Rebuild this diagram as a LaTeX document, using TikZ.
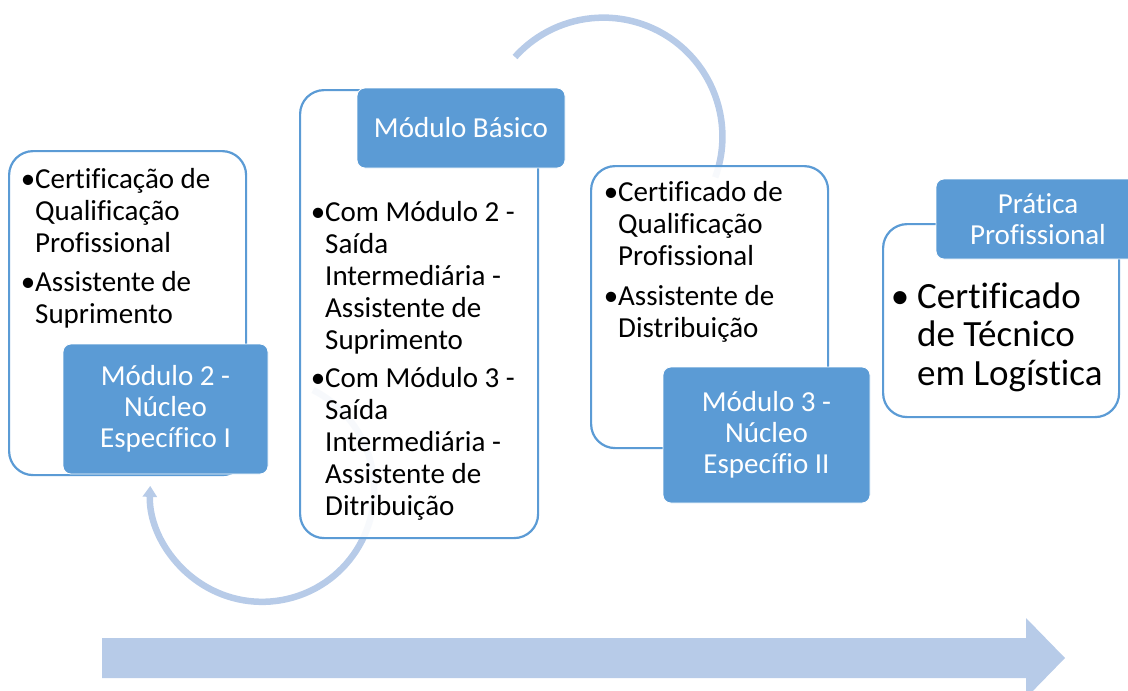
\documentclass[tikz,border=0pt]{standalone}
\usepackage{fontspec}
\setmainfont{Carlito}[Ligatures=NoCommon]
\usepackage{xcolor}
\usetikzlibrary{arrows.meta}

\definecolor{accent}{HTML}{5B9BD5}
\definecolor{flow}{HTML}{B7CBE8}

\tikzset{
  card/.style={draw=accent, line width=2.2pt, rounded corners=24pt, fill=white, fill opacity=0.9, anchor=north west, inner sep=0pt},
  head/.style={draw=white, line width=0.8pt, rounded corners=8pt, fill=accent, text=white, align=center, inner sep=0pt, font=\fontsize{29}{31}\selectfont},
  body/.style={align=left, anchor=north west, inner sep=0pt, font=\fontsize{29}{32}\selectfont},
  loopline/.style={flow, line width=6.5pt}
}

\begin{document}
\begin{tikzpicture}[x=1pt, y=-1pt]
 \useasboundingbox (0,0) rectangle (1128,691);

 \coordinate (up) at (515,57);
 \coordinate (low) at (313,390);

 \draw[loopline] (up) arc[start angle=-138, end angle=20, radius=119];
 \draw[loopline, -{Triangle[width=14pt, length=11pt]}] (low) arc[start angle=-63, end angle=182, radius=112];

 \fill[flow] (102,638) -- (1026,638) -- (1026,618) -- (1065,658) -- (1026,698) -- (1026,678) -- (102,678) -- cycle;

 \node[card, minimum width=237, minimum height=324] (c1) at (8,150) {};
 \node[card, minimum width=238, minimum height=448] (c2) at (299,89) {};
 \node[card, minimum width=237, minimum height=282] (c3) at (590,165) {};
 \node[card, minimum width=236, minimum height=193] (c4) at (882,223) {};

 \node[body] (t1) at (35,166) {\strut\llap{•}Certificação de\\Qualificação\\Profissional\\[7pt]
   \llap{•}Assistente de\\Suprimento};
 \node[body] (t2) at (325,199) {\strut\llap{•}Com Módulo 2 -\\Saída\\Intermediária -\\Assistente de\\Suprimento\\[6pt]
   \llap{•}Com Módulo 3 -\\Saída\\Intermediária -\\Assistente de\\Ditribuição};
 \node[body] (t3) at (618,179) {\strut\llap{•}Certificado de\\Qualificação\\Profissional\\[8pt]
   \llap{•}Assistente de\\Distribuição};
 \node[body, font=\fontsize{37}{38.5}\selectfont] (t4) at (917,281) {\strut\llap{•\hspace{8pt}}Certificado\\de Técnico\\em Logística};

 \node[head, minimum width=205, minimum height=130] (m2) at (165.5,409) {Módulo 2 -\\Núcleo\\Específico I};
 \node[head, minimum width=208, minimum height=80] (mb) at (461,128) {Módulo Básico};
 \node[head, minimum width=207, minimum height=136] (m3) at (766.5,435) {Módulo 3 -\\Núcleo\\Específio II};
 \node[head, minimum width=204, minimum height=80] (pp) at (1038,219) {Prática\\Profissional};

\end{tikzpicture}
\end{document}
